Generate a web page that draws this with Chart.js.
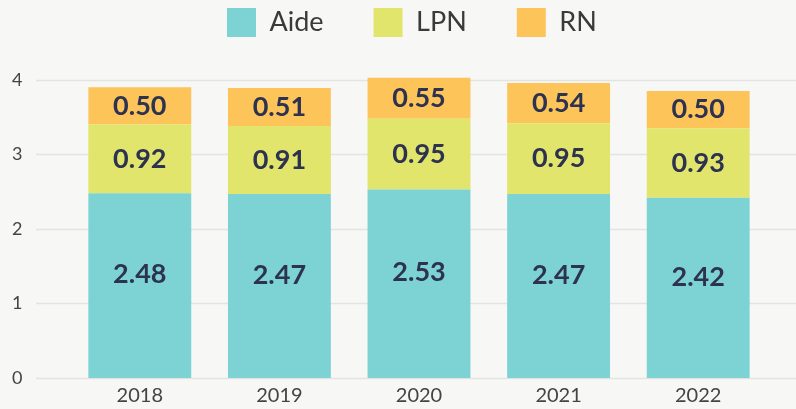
<!DOCTYPE html>
<html><head><meta charset="utf-8">
<script src="https://cdn.jsdelivr.net/npm/chart.js@4/dist/chart.umd.min.js"></script>
<style>html,body{margin:0;padding:0;background:#f7f7f5;}#wrap{width:796px;height:409px;}</style>
</head><body><div id="wrap"><canvas id="c" width="796" height="409"></canvas></div>
<script>
const categories = ['2018','2019','2020','2021','2022'];
const aide = [2.48, 2.47, 2.53, 2.47, 2.42];
const lpn = [0.92, 0.91, 0.95, 0.95, 0.93];
const rn = [0.50, 0.51, 0.55, 0.54, 0.50];
const yTicks = [0, 1, 2, 3, 4];

const gridPlugin = {
  id: 'extGrid',
  beforeDatasetsDraw(chart) {
    const ctx = chart.ctx, y = chart.scales.y;
    ctx.save();
    ctx.strokeStyle = '#e3e3e1';
    ctx.lineWidth = 1.5;
    yTicks.forEach(v => {
      const py = Math.round(y.getPixelForValue(v)) + 0.5;
      ctx.beginPath(); ctx.moveTo(36, py); ctx.lineTo(chart.width, py); ctx.stroke();
    });
    ctx.restore();
  }
};
const legendPlace = {
  id: 'legendPlace',
  afterLayout(chart) {
    const lg = chart.legend;
    if (!lg || !lg.lineWidths) return;
    const pad = lg.options.labels.padding;
    const startX = (lg.left + pad + lg.right - lg.lineWidths[0]) / 2;
    const dx = 227 - startX;
    lg.left += dx; lg.right += dx;
    lg.top = 8 - pad;
  }
};
const labelPlugin = {
  id: 'segLabels',
  afterDatasetsDraw(chart) {
    const ctx = chart.ctx;
    ctx.save();
    ctx.font = 'bold 27px Lato';
    ctx.fillStyle = '#2d3250';
    ctx.textAlign = 'center';
    ctx.textBaseline = 'middle';
    chart.data.datasets.forEach((ds, i) => {
      const off = i === 0 ? -11 : 0;
      chart.getDatasetMeta(i).data.forEach((bar, j) => {
        ctx.fillText(ds.data[j].toFixed(2), bar.x, (bar.y + bar.base) / 2 + off);
      });
    });
    ctx.restore();
  }
};

new Chart(document.getElementById('c'), {
  type: 'bar',
  data: {
    labels: categories,
    datasets: [
      {label: 'Aide', data: aide, backgroundColor: '#7dd3d3'},
      {label: 'LPN', data: lpn, backgroundColor: '#e1e56c'},
      {label: 'RN', data: rn, backgroundColor: '#fdc45a'}
    ]
  },
  options: {
    responsive: false,
    animation: false,
    layout: {padding: {top: 0, right: 28, bottom: 0, left: 12}},
    datasets: {bar: {categoryPercentage: 1, barPercentage: 0.737, borderWidth: 0}},
    plugins: {
      legend: {
        position: 'top',
        maxHeight: 65,
        labels: {boxWidth: 29, boxHeight: 29, padding: 50, color: '#3a3a3a', font: {family: 'Lato', size: 27}}
      },
      tooltip: {enabled: false}
    },
    scales: {
      x: {
        stacked: true,
        grid: {display: false, drawTicks: false},
        border: {display: false},
        ticks: {color: '#444', padding: 6, font: {family: 'Lato', size: 20}},
        afterFit(s) { s.height = 31; }
      },
      y: {
        stacked: true,
        min: 0, max: 4.2,
        grid: {display: false, drawTicks: false},
        border: {display: false},
        ticks: {stepSize: 1, color: '#444', padding: 0, crossAlign: 'far', font: {family: 'Lato', size: 18}},
        afterBuildTicks(s) { s.ticks = yTicks.map(v => ({value: v})); },
        afterFit(s) { s.width = 58; }
      }
    }
  },
  plugins: [gridPlugin, legendPlace, labelPlugin]
});
</script></body></html>
